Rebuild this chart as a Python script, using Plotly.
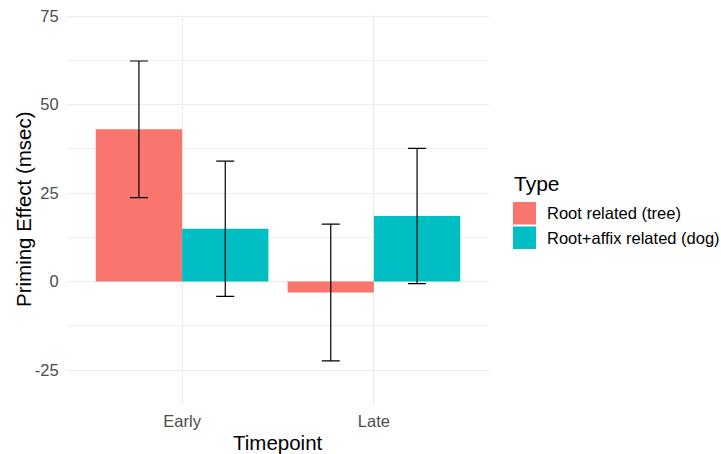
import plotly.graph_objects as go

timepoints = ["Early", "Late"]
types = ["Root related (tree)", "Root+affix related (dog)"]
root_vals = [43.0, -3.1]
root_err = [19.3, 19.3]
affix_vals = [14.9, 18.5]
affix_err = [19.1, 19.1]
colors = ["#F8766D", "#00BFC4"]
y_ticks = [-25, 0, 25, 50, 75]
y_ticktext = ["-25", "0", "25", "50", "75"]

FONT = "Liberation Sans, Arial, sans-serif"
L, R, T, B = 67, 489, 15, 404
W, H = R - L, B - T

fig = go.Figure()
for name, vals, errs, col in zip(types, [root_vals, affix_vals], [root_err, affix_err], colors):
    fig.add_trace(go.Bar(
        x=timepoints, y=vals, name=name, marker=dict(color=col, line=dict(width=0)),
        error_y=dict(type="data", array=errs, visible=True, color="black", thickness=1.2, width=9),
        showlegend=False,
    ))

fig.update_layout(
    width=721, height=454,
    margin=dict(l=L, r=721 - R, t=T, b=454 - B, autoexpand=False),
    paper_bgcolor="white", plot_bgcolor="white",
    barmode="group", bargap=0.1, bargroupgap=0,
    font=dict(family=FONT, color="#4D4D4D"),
    xaxis=dict(
        range=[-0.6, 1.6], showgrid=True, gridcolor="#EBEBEB", gridwidth=1.1,
        zeroline=False, showline=False, automargin=False,
        ticks="outside", ticklen=2, tickcolor="rgba(0,0,0,0)",
        tickfont=dict(size=16.5, color="#4D4D4D"),
    ),
    yaxis=dict(
        range=[-34.6, 75.3], tickvals=y_ticks, ticktext=y_ticktext,
        showgrid=True, gridcolor="#EBEBEB", gridwidth=1.1,
        zeroline=False, showline=False, automargin=False,
        ticks="outside", ticklen=4, tickcolor="rgba(0,0,0,0)",
        tickfont=dict(size=16.5, color="#4D4D4D"),
        minor=dict(tick0=12.5, dtick=25, showgrid=True, gridcolor="#F0F0F0", gridwidth=0.6),
    ),
)

def px(x):
    return (x - L) / W

def py(y):
    return (B - y) / H

# Axis titles
fig.add_annotation(xref="paper", yref="paper", x=px(278), y=py(442), text="Timepoint",
                   showarrow=False, xanchor="center", yanchor="middle",
                   font=dict(size=20.5, color="black", family=FONT))
fig.add_annotation(xref="paper", yref="paper", x=px(23), y=py(209), text="Priming Effect (msec)",
                   showarrow=False, xanchor="center", yanchor="middle", textangle=-90,
                   font=dict(size=20.5, color="black", family=FONT))

# Manual legend (ggplot-style keys)
fig.add_annotation(xref="paper", yref="paper", x=px(512), y=py(183), text="Type",
                   showarrow=False, xanchor="left", yanchor="middle",
                   font=dict(size=21, color="black", family=FONT))
key_tops = [202, 226.5]
for name, col, top in zip(types, colors, key_tops):
    fig.add_shape(type="rect", xref="paper", yref="paper",
                  x0=px(513), x1=px(536), y0=py(top), y1=py(top + 22.5),
                  fillcolor=col, line=dict(width=0))
    fig.add_annotation(xref="paper", yref="paper", x=px(545), y=py(top + 11.25),
                       text=name, showarrow=False, xanchor="left", yanchor="middle",
                       font=dict(size=16.5, color="black", family=FONT))

fig.write_html("out.html", config={"displayModeBar": False},
               post_script="document.body.style.margin='0';document.body.style.overflow='hidden';")
